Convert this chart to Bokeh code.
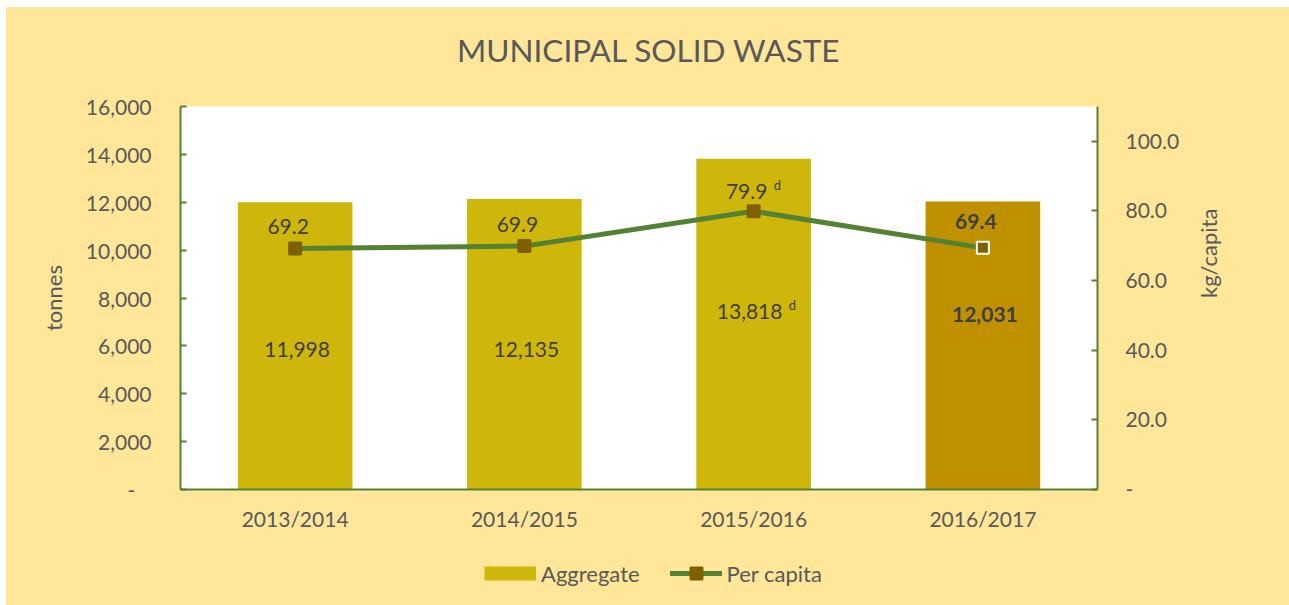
import math
from bokeh.plotting import figure
from bokeh.layouts import column
from bokeh.models import (ColumnDataSource, FactorRange, Range1d, LinearAxis, FixedTicker,
                          NumeralTickFormatter, Legend, LegendItem)
from bokeh.core.properties import value
from bokeh.embed import file_html
from bokeh.resources import INLINE

# ---------------- data ----------------
title_text = "MUNICIPAL SOLID WASTE"
years = ["2013/2014", "2014/2015", "2015/2016", "2016/2017"]
aggregate = [11998, 12135, 13818, 12031]          # tonnes
per_capita = [69.2, 69.9, 79.9, 69.4]             # kg/capita
notes = ["", "", "d", ""]
highlight = [False, False, False, True]
left_ticks = [0, 2000, 4000, 6000, 8000, 10000, 12000, 14000, 16000]
right_ticks = [0, 20, 40, 60, 80, 100]

# ---------------- style ----------------
BG = "#FFE699"
BAR = "#CEB60A"
BAR_HI = "#BF9000"
LINE = "#548235"
MARK = "#7F6000"
TXT = "#595959"
LBL = "#404040"
FONT = "Lato"
FS = "21px"
W = 1283
BORDERS = dict(min_border_left=174, min_border_right=192)

bar_dx = [2, 2, -4, 2]
bar_dy = [4, 5, -13, -31]
pc_dy = [-22, -22, -20, -26]
bar_note_dx = [0, 0, 35, 0]
pc_note_dx = [0, 0, 20, 0]

src = ColumnDataSource(dict(
    x=years,
    agg=aggregate,
    half=[a / 2 for a in aggregate],
    pc=per_capita,
    agg_lbl=[f"{a:,}" for a in aggregate],
    pc_lbl=[f"{v:.1f}" for v in per_capita],
    note=notes,
    color=[BAR_HI if h else BAR for h in highlight],
    style=["bold" if h else "normal" for h in highlight],
    mline=["white" if h else MARK for h in highlight],
    bdx=bar_dx, bdy=bar_dy, pdy=pc_dy,
    bndx=bar_note_dx, bndy=[d - 6 for d in bar_dy],
    pndx=pc_note_dx, pndy=[d - 6 for d in pc_dy],
))


def bare(fig):
    fig.axis.visible = False
    fig.grid.visible = False
    return fig


strip_style = dict(output_backend="svg", toolbar_location=None,
                   min_border_top=0, min_border_bottom=0, **BORDERS,
                   background_fill_color=BG, border_fill_color=BG,
                   outline_line_color=BG, outline_line_width=3)

# ---------------- title strip (x in page pixels across the plot frame) ----------------
tf = bare(figure(x_range=Range1d(180, 1097), y_range=Range1d(0, 73), width=W, height=73,
                 **strip_style))
tf.text(x=[648.5], y=[31], text=[title_text], text_align="center",
        text_baseline="alphabetic", text_font=value(FONT), text_font_size="31.5px",
        text_color=TXT)

# ---------------- main chart ----------------
p = figure(x_range=FactorRange(factors=years, range_padding=0),
           y_range=Range1d(0, 16000),
           width=W, height=475,
           output_backend="svg", toolbar_location=None,
           min_border_top=26, min_border_bottom=66, **BORDERS,
           background_fill_color="white", border_fill_color=BG, outline_line_color=None)
p.extra_y_ranges = {"pc": Range1d(0, 110)}

p.vbar(x="x", top="agg", width=0.5, fill_color="color", line_color=None, source=src)
p.line(x="x", y="pc", y_range_name="pc", line_color=LINE, line_width=5,
       line_join="round", source=src)
p.scatter(x="x", y="pc", y_range_name="pc", marker="square", size=12,
          fill_color=MARK, line_color="mline", line_width=2, source=src)

common = dict(text_font=value(FONT), text_font_size=FS, text_color=LBL,
              text_align="center", text_baseline="middle", source=src)
p.text(x="x", y="half", text="agg_lbl", x_offset="bdx", y_offset="bdy",
       text_font_style="style", **common)
p.text(x="x", y="pc", y_range_name="pc", text="pc_lbl", x_offset=-7, y_offset="pdy",
       text_font_style="style", **common)
note_style = dict(text_font=value(FONT), text_font_size="13px", text_color=LBL,
                  text_align="left", text_baseline="middle", source=src)
p.text(x="x", y="half", text="note", x_offset="bndx", y_offset="bndy", **note_style)
p.text(x="x", y="pc", y_range_name="pc", text="note", x_offset="pndx", y_offset="pndy", **note_style)

p.xgrid.visible = False
p.ygrid.visible = False

xa = p.xaxis[0]
xa.axis_line_color = LINE
xa.axis_line_width = 2
xa.major_tick_line_color = None
xa.minor_tick_line_color = None
xa.major_label_standoff = 10
xa.major_label_text_font = FONT
xa.major_label_text_font_size = FS
xa.major_label_text_color = TXT

ya = p.yaxis[0]
ya.ticker = FixedTicker(ticks=left_ticks)
ya.formatter = NumeralTickFormatter(format="0,0")
ya.major_label_overrides = {0: "-\u00a0\u00a0\u00a0"}
ya.axis_label = "tonnes"

yr = LinearAxis(y_range_name="pc", ticker=FixedTicker(ticks=right_ticks),
                formatter=NumeralTickFormatter(format="0.0"), axis_label="kg/capita")
yr.major_label_overrides = {0: "-"}
p.add_layout(yr, "right")

for ax, st, ast in ((ya, 29, 16), (yr, 28, 26)):
    ax.axis_line_color = LINE
    ax.axis_line_width = 2
    ax.major_tick_in = 6
    ax.major_tick_out = 0
    ax.major_tick_line_color = LINE
    ax.major_tick_line_width = 2
    ax.minor_tick_line_color = None
    ax.major_label_standoff = st
    ax.major_label_text_font = FONT
    ax.major_label_text_font_size = FS
    ax.major_label_text_color = TXT
    ax.axis_label_standoff = ast
    ax.axis_label_text_font = FONT
    ax.axis_label_text_font_size = "22px"
    ax.axis_label_text_font_style = "normal"
    ax.axis_label_text_color = TXT

if "axis_label_orientation" in LinearAxis.properties():
    yr.axis_label_orientation = math.pi / 2

# ---------------- legend strip ----------------
lf = bare(figure(x_range=FactorRange(factors=years), y_range=Range1d(-2, -1),
                 width=W, height=50, **strip_style))
# legend proxies: drawn from the real data but lying outside this strip's range
agg_proxy = lf.line(x=years, y=aggregate, line_color=BAR, line_width=14, line_cap="butt")
pc_line_proxy = lf.line(x=years, y=per_capita, line_color=LINE, line_width=5, line_cap="round")
pc_mark_proxy = lf.scatter(x=years, y=per_capita, marker="square", size=12,
                           fill_color=MARK, line_color=MARK, line_width=2)
legend = Legend(items=[LegendItem(label="Aggregate", renderers=[agg_proxy]),
                       LegendItem(label="Per capita", renderers=[pc_line_proxy, pc_mark_proxy])],
                orientation="horizontal", location=(304, 17),
                glyph_width=52, glyph_height=30, label_standoff=5, spacing=30,
                padding=0, margin=0, border_line_color=None, background_fill_alpha=0,
                label_text_font=FONT, label_text_font_size="22px", label_text_color=TXT)
lf.add_layout(legend)

layout = column(tf, p, lf, spacing=0, margin=(7, 0, 0, 6),
                styles={"background-color": BG})
open("out.html", "w").write(file_html(layout, INLINE))
